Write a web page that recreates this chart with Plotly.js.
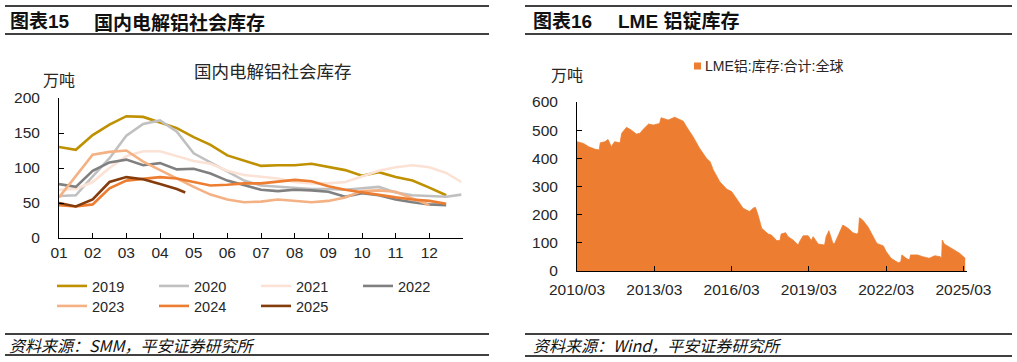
<!DOCTYPE html>
<html>
<head>
<meta charset="utf-8">
<script src="https://cdn.plot.ly/plotly-3.0.1.min.js"></script>
<style>
  html, body { margin: 0; padding: 0; background: #fff; }
  #chart { width: 1017px; height: 362px; }
</style>
</head>
<body>
<div id="chart"></div>
<script>
// ---------- Data: 国内电解铝社会库存 (万吨), half-month positions ----------
const months = [1,1.5,2,2.5,3,3.5,4,4.5,5,5.5,6,6.5,7,7.5,8,8.5,9,9.5,10,10.5,11,11.5,12,12.5,12.95];
const monthTickVals = [1,2,3,4,5,6,7,8,9,10,11,12];
const monthTickText = ["01","02","03","04","05","06","07","08","09","10","11","12"];

const s2019 = [130,126,147,162,174,173,165,157,144,133,118,110,103,104,104,106,101,97,89,94,87,82,72,61,null];
const s2020 = [60,61,88,114,146,163,168,152,121,108,95,82,75,73,71,70,70,69,71,73,65,61,60,59,62];
const s2021 = [69,70,80,100,117,124,124,117,110,106,96,90,88,85,80,78,78,80,88,96,101,104,101,93,80];
const s2022 = [77,73,96,108,112,104,107,98,99,92,82,75,69,67,69,68,66,59,64,61,55,51,48,47,null];
const s2023 = [58,88,119,123,125,109,97,84,73,62,55,51,52,55,53,51,53,58,67,68,66,56,47,null,null];
const s2024 = [47,45,48,71,82,85,87,85,80,75,76,78,78,80,83,81,74,69,65,61,58,55,53,49,null];
const months2025 = [1,1.5,2,2.5,3,3.5,4,4.5,4.75];
const s2025 = [50,45,55,80,87,84,77,70,65];

const yearNames = ["2019","2020","2021","2022","2023","2024","2025"];
const yearColors = ["#BF9000","#C0C0C0","#FBE2D5","#808080","#F4B183","#ED7D31","#843C0C"];

// ---------- Data: LME铝:库存:合计:全球 (万吨) ----------
const lmeDates = [
 "2010-03-01","2010-06-01","2010-08-15","2010-11-15","2011-01-10","2011-01-25","2011-04-01","2011-05-15","2011-07-01","2011-08-15",
 "2011-11-01","2011-11-25","2012-02-01","2012-04-10","2012-06-20","2012-08-10","2012-09-25","2012-12-10","2013-02-15","2013-05-15",
 "2013-06-05","2013-09-15","2013-12-15","2014-02-25","2014-04-15","2014-06-01","2014-09-01","2014-12-05","2015-03-10","2015-05-01",
 "2015-06-15","2015-09-15","2015-12-25","2016-03-01","2016-05-10","2016-08-10","2016-11-10","2017-01-01","2017-02-01","2017-03-10",
 "2017-05-01","2017-08-01","2017-09-15","2017-12-01","2018-01-15","2018-02-01","2018-04-05","2018-05-10","2018-07-20","2018-10-01",
 "2018-10-20","2018-12-10","2019-02-20","2019-04-05","2019-05-01","2019-07-10","2019-10-10","2019-11-01","2019-12-10","2020-02-05",
 "2020-03-01","2020-05-10","2020-06-25","2020-09-05","2020-11-15","2021-01-10","2021-02-01","2021-02-15","2021-04-01","2021-06-15",
 "2021-09-01","2021-10-20","2022-01-20","2022-03-01","2022-05-10","2022-08-20","2022-09-25","2022-10-10","2022-12-10","2023-01-25",
 "2023-02-10","2023-05-20","2023-08-01","2023-11-01","2024-01-20","2024-04-05","2024-04-25","2024-05-05","2024-06-01","2024-10-01",
 "2025-01-05","2025-03-25"
];
const lmeStock = [
 459,453,441,432,430,455,459,467,441,459,
 455,489,510,500,486,489,503,522,518,524,
 544,536,546,536,532,512,477,435,400,388,
 359,317,290,282,258,223,211,223,226,199,
 152,131,128,108,108,131,136,122,110,92,
 104,125,125,108,122,96,92,122,143,98,
 98,140,163,152,136,131,138,189,181,157,
 122,98,89,69,45,29,33,57,45,39,
 57,57,51,45,54,51,45,110,96,77,
 63,45
];

// ---------- Text ----------
const leftHeaderNo = "图表15", leftHeader = "国内电解铝社会库存";
const rightHeaderNo = "图表16", rightHeader = "LME 铝锭库存";
const leftChartTitle = "国内电解铝社会库存";
const unitText = "万吨";
const lmeName = "LME铝:库存:合计:全球";
const leftSource = "资料来源：SMM，平安证券研究所";
const rightSource = "资料来源：Wind，平安证券研究所";

// ---------- Build ----------
const W = 1017, H = 362;
const fx = x => x / W, fy = y => 1 - y / H;
const FONT = "Arial, 'Liberation Sans', 'Noto Sans CJK SC', sans-serif";
const CJK = "'Noto Sans CJK SC', 'Liberation Sans', sans-serif";
const HEAD = "Arial, 'Liberation Sans', 'Noto Sans CJK SC', sans-serif";

const seriesData = [s2019, s2020, s2021, s2022, s2023, s2024, s2025];
const traces = seriesData.map((vals, i) => ({
  type: "scatter", mode: "lines",
  x: i === 6 ? months2025 : months, y: vals,
  name: yearNames[i],
  line: { color: yearColors[i], width: 2.6 },
  connectgaps: false,
  legend: i < 4 ? "legend" : "legend2",
  xaxis: "x", yaxis: "y"
}));
traces.push({
  type: "scatter", mode: "lines", x: lmeDates, y: lmeStock, name: lmeName,
  fill: "tozeroy", fillcolor: "#ED7D31", line: { color: "#ED7D31", width: 0.8 },
  showlegend: false, xaxis: "x2", yaxis: "y2"
});

const axisCommon = {
  showline: true, linecolor: "#000", linewidth: 1, showgrid: false, zeroline: false,
  ticks: "inside", ticklen: 5, tickcolor: "#000", tickwidth: 1,
  tickfont: { family: FONT, size: 15.5, color: "#262626" }
};

const hline = (x0, x1, y) => ({ type: "line", xref: "paper", yref: "paper", x0: fx(x0), x1: fx(x1), y0: fy(y), y1: fy(y), line: { color: "#000", width: 1.6 } });
const ann = (text, x, y, opts) => Object.assign({ text, xref: "paper", yref: "paper", x: fx(x), y: fy(y), showarrow: false, xanchor: "left", yanchor: "middle" }, opts || {});
const legendBase = {
  orientation: "h", xanchor: "left", yanchor: "top",
  entrywidth: 57, entrywidthmode: "pixels", bgcolor: "rgba(0,0,0,0)",
  font: { family: FONT, size: 14.5, color: "#262626" }, traceorder: "normal"
};

const layout = {
  width: W, height: H, margin: { l: 0, r: 0, t: 0, b: 0 },
  paper_bgcolor: "#fff", plot_bgcolor: "#fff",
  font: { family: FONT, size: 15, color: "#262626" },
  showlegend: true,
  xaxis: Object.assign({}, axisCommon, {
    domain: [fx(59), fx(463)], range: [1, 13], tickmode: "array",
    tickvals: monthTickVals, ticktext: monthTickText, anchor: "y", ticklabelstandoff: 0
  }),
  yaxis: Object.assign({}, axisCommon, {
    domain: [fy(238), fy(98)], range: [0, 200], dtick: 50, anchor: "x", ticklabelstandoff: 15
  }),
  xaxis2: Object.assign({}, axisCommon, {
    domain: [fx(577), fx(967)], type: "date", range: ["2010-03-01", "2025-04-20"],
    tick0: "2010-03-01", dtick: "M36", tickformat: "%Y/%m", anchor: "y2", ticklabelstandoff: 4
  }),
  yaxis2: Object.assign({}, axisCommon, {
    domain: [fy(271), fy(102)], range: [0, 600], dtick: 100, anchor: "x2", ticklabelstandoff: 15
  }),
  legend: Object.assign({}, legendBase, { x: fx(52), y: fy(270) }),
  legend2: Object.assign({}, legendBase, { x: fx(52), y: fy(290) }),
  shapes: [
    hline(5, 489, 6), hline(5, 489, 34), hline(5, 489, 334), hline(5, 489, 355),
    hline(525, 1012, 6), hline(525, 1012, 34), hline(525, 1012, 334), hline(525, 1012, 356),
    { type: "rect", xref: "paper", yref: "paper", x0: fx(694), x1: fx(701), y0: fy(69.5), y1: fy(62.5), fillcolor: "#ED7D31", line: { width: 0 } }
  ],
  annotations: [
    ann(leftHeaderNo, 8, 21, { font: { family: HEAD, size: 19, color: "#111", weight: 700 } }),
    ann(leftHeader, 92, 21, { font: { family: CJK, size: 19, color: "#111", weight: 700 } }),
    ann(rightHeaderNo, 531, 21, { font: { family: HEAD, size: 19, color: "#111", weight: 700 } }),
    ann(rightHeader, 616, 21, { font: { family: HEAD, size: 19, color: "#111", weight: 700 } }),
    ann(leftChartTitle, 273, 70, { xanchor: "center", font: { family: CJK, size: 17.5, color: "#262626" } }),
    ann(unitText, 59, 79, { xanchor: "center", font: { family: CJK, size: 16, color: "#262626" } }),
    ann(unitText, 567, 74, { xanchor: "center", font: { family: CJK, size: 16, color: "#262626" } }),
    ann(lmeName, 703, 66, { font: { family: FONT, size: 14, color: "#262626" } }),
    ann(leftSource, 7, 345, { font: { family: CJK, size: 16, color: "#111", style: "italic" } }),
    ann(rightSource, 531, 345, { font: { family: CJK, size: 16, color: "#111", style: "italic" } })
  ]
};

Plotly.newPlot("chart", traces, layout, { displayModeBar: false, staticPlot: true });
</script>
</body>
</html>
